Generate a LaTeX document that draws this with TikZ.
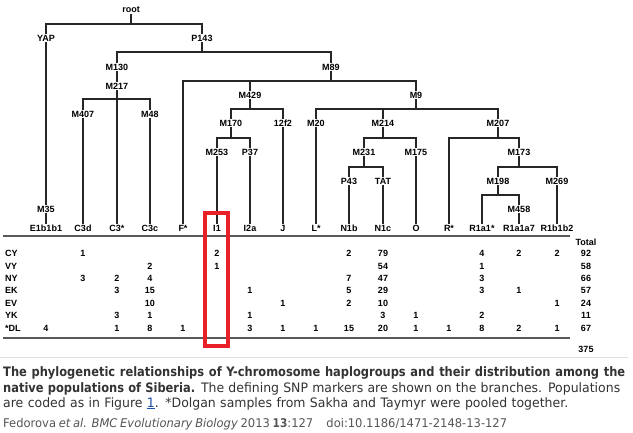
\documentclass[tikz,border=0pt]{standalone}
\usepackage{fontspec}
\setmainfont{Liberation Sans}
\newfontfamily\capfont[FakeStretch=0.96]{DejaVu Sans}
\newfontfamily\capbold[FakeStretch=0.88]{DejaVu Sans Bold}
\usetikzlibrary{backgrounds}
\definecolor{capgray}{HTML}{333333}
\definecolor{citegray}{HTML}{555555}
\definecolor{linkblue}{HTML}{1A4DA8}
\definecolor{boxred}{HTML}{E8202A}
\tikzset{
  mk/.style={font=\bfseries\fontsize{9}{10}\selectfont, fill=white, inner sep=1pt, text=black},
  leaf/.style={font=\bfseries\fontsize{9}{10}\selectfont, fill=white, inner sep=1pt, text=black},
  num/.style={font=\bfseries\fontsize{9}{10}\selectfont, inner sep=0pt, text=black},
  rowlab/.style={font=\bfseries\fontsize{9}{10}\selectfont, inner sep=0pt, anchor=west, text=black},
  br/.style={line width=1.2pt, draw=black!85, line cap=rect},
  tabrule/.style={line width=2.2pt, draw=black!65},
  capline/.style={anchor=base west, inner sep=0pt, text=capgray, font=\capfont\fontsize{13}{15}\selectfont},
}
\newcommand{\cell}[4]{\node[num] (#1) at (#2,#3) {#4};}
\begin{document}
\begin{tikzpicture}[x=1pt,y=-1pt]
\path[use as bounding box] (0,0) rectangle (633,433);

% ---------- marker labels ----------
\node[mk] (root) at (131,10) {root};
\node[mk] (YAP) at (46,38) {YAP};
\node[mk] (P143) at (202,38) {P143};
\node[mk] (M130) at (117,67) {M130};
\node[mk] (M217) at (117,86) {M217};
\node[mk] (M407) at (83,114) {M407};
\node[mk] (M48) at (150,114) {M48};
\node[mk] (M89) at (331,67) {M89};
\node[mk] (M429) at (250,95) {M429};
\node[mk] (M9) at (416,95) {M9};
\node[mk] (M170) at (231,123) {M170};
\node[mk] (12f2) at (283,123) {12f2};
\node[mk] (M253) at (217,152) {M253};
\node[mk] (P37) at (250,152) {P37};
\node[mk] (M20) at (316,123) {M20};
\node[mk] (M214) at (383,123) {M214};
\node[mk] (M207) at (498,123) {M207};
\node[mk] (M231) at (364,152) {M231};
\node[mk] (M175) at (416,152) {M175};
\node[mk] (P43) at (349,181) {P43};
\node[mk] (TAT) at (383,181) {TAT};
\node[mk] (M173) at (519,152) {M173};
\node[mk] (M198) at (498,181) {M198};
\node[mk] (M269) at (557,181) {M269};
\node[mk] (M458) at (519,209) {M458};
\node[mk] (M35) at (46,209) {M35};

% ---------- leaves ----------
\node[leaf] (lE) at (46,228) {E1b1b1};
\node[leaf] (lC3d) at (83,228) {C3d};
\node[leaf] (lC3s) at (117,228) {C3*};
\node[leaf] (lC3c) at (150,228) {C3c};
\node[leaf] (lF) at (183,228) {F*};
\node[leaf] (lI1) at (217,228) {I1};
\node[leaf] (lI2a) at (250,228) {I2a};
\node[leaf] (lJ) at (283,228) {J};
\node[leaf] (lL) at (316,228) {L*};
\node[leaf] (lN1b) at (349,228) {N1b};
\node[leaf] (lN1c) at (383,228) {N1c};
\node[leaf] (lO) at (416,228) {O};
\node[leaf] (lR) at (449,228) {R*};
\node[leaf] (lR1a1) at (482,228) {R1a1*};
\node[leaf] (lR1a1a7) at (519,228) {R1a1a7};
\node[leaf] (lR1b1b2) at (557,228) {R1b1b2};

% ---------- junction coordinates ----------
\coordinate (jroot) at (131,24);
\coordinate (tE) at (46,24);   \coordinate (tP143) at (202,24);
\coordinate (bP143) at (202,52);
\coordinate (tM130) at (117,52); \coordinate (tM89) at (331,52);
\coordinate (tC3d) at (83,99);  \coordinate (tC3c) at (150,99);
\coordinate (bM89) at (331,81);
\coordinate (tF) at (183,81);  \coordinate (tM429) at (250,81); \coordinate (tM9) at (416,81);
\coordinate (bM429) at (250,109);
\coordinate (tM170) at (231,109); \coordinate (tJ) at (283,109);
\coordinate (bM170) at (231,138);
\coordinate (tI1) at (217,138); \coordinate (tI2a) at (250,138);
\coordinate (bM9) at (416,109);
\coordinate (tL) at (316,109); \coordinate (tM214) at (383,109); \coordinate (tM207) at (498,109);
\coordinate (bM214) at (383,138);
\coordinate (tM231) at (364,138); \coordinate (tO) at (416,138);
\coordinate (bM231) at (364,167);
\coordinate (tN1b) at (349,167); \coordinate (tN1c) at (383,167);
\coordinate (bM207) at (498,138);
\coordinate (tR) at (449,138); \coordinate (tM173) at (519,138);
\coordinate (bM173) at (519,167);
\coordinate (tM198) at (498,167); \coordinate (tR1b) at (557,167);
\coordinate (bM198) at (498,195);
\coordinate (tR1a1) at (482,195); \coordinate (tR1a1a7) at (519,195);

\begin{scope}[on background layer]
\fill[white] (0,0) rectangle (633,433);
\draw[br] (root) -- (jroot);
\draw[br] (tE) -- (tP143);
\draw[br] (tE) -- (lE.center);
\draw[br] (tP143) -- (bP143);
\draw[br] (tM130) -- (tM89);
\draw[br] (tM130) -- (lC3s.center);
\draw[br] (tC3d) -- (tC3c);
\draw[br] (tC3d) -- (lC3d.center);
\draw[br] (tC3c) -- (lC3c.center);
\draw[br] (tM89) -- (bM89);
\draw[br] (tF) -- (tM9);
\draw[br] (tF) -- (lF.center);
\draw[br] (tM429) -- (bM429);
\draw[br] (tM170) -- (tJ);
\draw[br] (tJ) -- (lJ.center);
\draw[br] (tM170) -- (bM170);
\draw[br] (tI1) -- (tI2a);
\draw[br] (tI1) -- (lI1.center);
\draw[br] (tI2a) -- (lI2a.center);
\draw[br] (tM9) -- (bM9);
\draw[br] (tL) -- (tM207);
\draw[br] (tL) -- (lL.center);
\draw[br] (tM214) -- (bM214);
\draw[br] (tM231) -- (tO);
\draw[br] (tO) -- (lO.center);
\draw[br] (tM231) -- (bM231);
\draw[br] (tN1b) -- (tN1c);
\draw[br] (tN1b) -- (lN1b.center);
\draw[br] (tN1c) -- (lN1c.center);
\draw[br] (tM207) -- (bM207);
\draw[br] (tR) -- (tM173);
\draw[br] (tR) -- (lR.center);
\draw[br] (tM173) -- (bM173);
\draw[br] (tM198) -- (tR1b);
\draw[br] (tR1b) -- (lR1b1b2.center);
\draw[br] (tM198) -- (bM198);
\draw[br] (tR1a1) -- (tR1a1a7);
\draw[br] (tR1a1) -- (lR1a1.center);
\draw[br] (tR1a1a7) -- (lR1a1a7.center);
\end{scope}

% ---------- table ----------
\coordinate (ruleAl) at (3,236); \coordinate (ruleAr) at (570,236);
\coordinate (ruleBl) at (3,338); \coordinate (ruleBr) at (570,338);
\draw[tabrule] (ruleAl) -- (ruleAr);
\draw[tabrule] (ruleBl) -- (ruleBr);
\node[num] (total) at (586,242) {Total};

\node[rowlab] (rCY) at (5,253) {CY};
\node[rowlab] (rVY) at (5,266) {VY};
\node[rowlab] (rNY) at (5,278) {NY};
\node[rowlab] (rEK) at (5,290) {EK};
\node[rowlab] (rEV) at (5,303) {EV};
\node[rowlab] (rYK) at (5,315) {YK};
\node[rowlab] (rDL) at (5,328) {*DL};

% CY
\cell{cy1}{83}{253}{1}\cell{cy2}{217}{253}{2}\cell{cy3}{349}{253}{2}\cell{cy4}{383}{253}{79}
\cell{cy5}{482}{253}{4}\cell{cy6}{519}{253}{2}\cell{cy7}{557}{253}{2}\cell{cy8}{586}{253}{92}
% VY
\cell{vy1}{150}{266}{2}\cell{vy2}{217}{266}{1}\cell{vy3}{383}{266}{54}\cell{vy4}{482}{266}{1}\cell{vy5}{586}{266}{58}
% NY
\cell{ny1}{83}{278}{3}\cell{ny2}{117}{278}{2}\cell{ny3}{150}{278}{4}\cell{ny4}{349}{278}{7}
\cell{ny5}{383}{278}{47}\cell{ny6}{482}{278}{3}\cell{ny7}{586}{278}{66}
% EK
\cell{ek1}{117}{290}{3}\cell{ek2}{150}{290}{15}\cell{ek3}{250}{290}{1}\cell{ek4}{349}{290}{5}
\cell{ek5}{383}{290}{29}\cell{ek6}{482}{290}{3}\cell{ek7}{519}{290}{1}\cell{ek8}{586}{290}{57}
% EV
\cell{ev1}{150}{303}{10}\cell{ev2}{283}{303}{1}\cell{ev3}{349}{303}{2}\cell{ev4}{383}{303}{10}
\cell{ev5}{557}{303}{1}\cell{ev6}{586}{303}{24}
% YK
\cell{yk1}{117}{315}{3}\cell{yk2}{150}{315}{1}\cell{yk3}{250}{315}{1}\cell{yk4}{383}{315}{3}
\cell{yk5}{416}{315}{1}\cell{yk6}{482}{315}{2}\cell{yk7}{586}{315}{11}
% DL
\cell{dl1}{46}{328}{4}\cell{dl2}{117}{328}{1}\cell{dl3}{150}{328}{8}\cell{dl4}{183}{328}{1}
\cell{dl5}{250}{328}{3}\cell{dl6}{283}{328}{1}\cell{dl7}{316}{328}{1}\cell{dl8}{349}{328}{15}
\cell{dl9}{383}{328}{20}\cell{dl10}{416}{328}{1}\cell{dl11}{449}{328}{1}\cell{dl12}{482}{328}{8}
\cell{dl13}{519}{328}{2}\cell{dl14}{557}{328}{1}\cell{dl15}{586}{328}{67}
\cell{grand}{586}{349}{375}

% ---------- highlight box ----------
\coordinate (hl1) at (205,213); \coordinate (hl2) at (228,346);
\draw[boxred, line width=4pt] (hl1) rectangle (hl2);

% ---------- caption ----------
\coordinate (sepL) at (0,357); \coordinate (sepR) at (628,357);
\draw[black!12, line width=0.8pt] (sepL) -- (sepR);
\node[capline] (cap1) at (3,377) {\makebox[622pt][s]{\capbold The phylogenetic relationships of Y-chromosome haplogroups and their distribution among the}};
\node[capline] (cap2) at (3,392) {\makebox[617pt][s]{{\capbold native populations of Siberia.} The defining SNP markers are shown on the branches. Populations}};
\node[capline] (cap3) at (3,407) {\makebox[565pt][s]{are coded as in Figure \textcolor{linkblue}{\underline{1}}. *Dolgan samples from Sakha and Taymyr were pooled together.}};
\node[capline, text=citegray, font=\capfont\fontsize{12}{14}\selectfont] (cite) at (3,427.5) {\makebox[504pt][s]{Fedorova \textit{et al.} \textit{BMC Evolutionary Biology} 2013 {\capbold 13}:127\hspace{1.1em}doi:10.1186/1471-2148-13-127}};
\end{tikzpicture}
\end{document}
